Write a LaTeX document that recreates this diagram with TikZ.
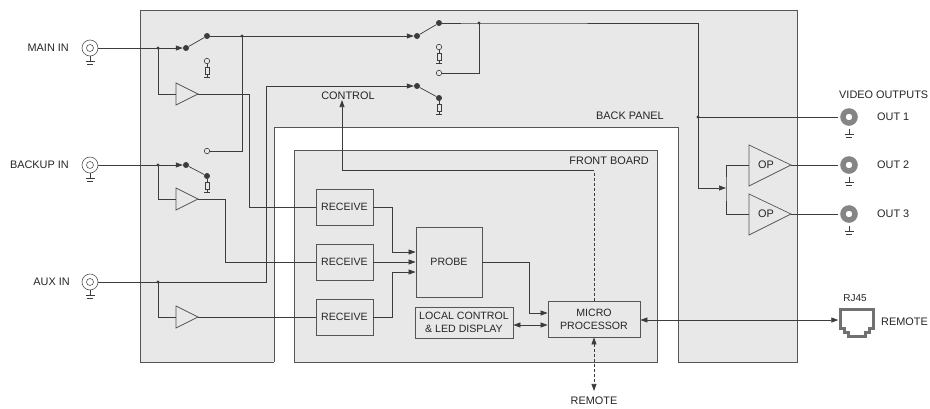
\documentclass[tikz,border=0pt]{standalone}
\usepackage{fontspec}
\setmainfont{Liberation Sans}
\usetikzlibrary{arrows.meta}
\definecolor{panel}{HTML}{E8E8E8}
\definecolor{ln}{HTML}{3C3C3C}
\definecolor{fr}{HTML}{555555}
\definecolor{tx}{HTML}{262626}
\definecolor{ring}{HTML}{858585}
\newcommand{\gndsym}[2]{\draw[wire] (#1) -- ++(0,#2) ++(-4.5,0) -- ++(9,0) ++(-7.5,3) -- ++(6,0);}
\newcommand{\gndsmall}[1]{\draw[wire] (#1) -- ++(0,3) ++(-3,0) -- ++(6,0);}
\begin{document}
\begin{tikzpicture}[x=1pt,y=-1pt,
  wire/.style={draw=ln,line width=0.7pt},
  frame/.style={draw=fr,line width=0.8pt},
  tip/.style={-{Triangle[length=7pt,width=5pt]}},
  dtip/.style={{Triangle[length=7pt,width=5pt]}-{Triangle[length=7pt,width=5pt]}},
  lbl/.style={font=\fontsize{10.9}{12.5}\selectfont,text=tx,inner sep=0},
  box/.style={draw=fr,fill=panel,line width=0.8pt,inner sep=0,font=\fontsize{10.6}{13}\selectfont,text=tx,align=center},
  dot/.style={circle,fill=ln,minimum size=6pt,inner sep=0},
  odot/.style={circle,draw=ln,fill=panel,line width=0.6pt,minimum size=5.5pt,inner sep=0},
  res/.style={draw=ln,fill=panel,line width=0.6pt,minimum width=4pt,minimum height=7pt,inner sep=0},
  incon/.style={circle,draw=fr,fill=white,line width=0.6pt,minimum size=16pt,inner sep=0},
  outcon/.style={circle,draw=ring,fill=white,line width=5.5pt,minimum size=12pt,inner sep=0},
  amp/.style={draw=fr,fill=panel,line width=0.7pt}
]
\useasboundingbox (0,0) rectangle (930,408);
\fill[white] (0,0) rectangle (930,408);
% panels
\fill[panel] (140,10) rectangle (797,362);
\fill[white] (274,127) rectangle (678,363);
\draw[frame] (274,362) -- (140,362) -- (140,10) -- (797,10) -- (797,362) -- (678,362) -- (678,127) -- (274,127) -- (274,362);
\draw[frame,fill=panel] (294,150) rectangle (657,362);
\node[lbl,anchor=east] (bp) at (664,116) {BACK PANEL};
\node[lbl,anchor=east] (fb) at (649,161) {FRONT BOARD};

% input connectors
\node[incon] (cin1) at (90,48) {};
\node[incon] (cin2) at (90,165) {};
\node[incon] (cin3) at (90,282) {};
\foreach \c in {cin1,cin2,cin3}{
  \draw[fr,line width=0.6pt] (\c) circle[radius=3.5];
  \gndsym{\c.south}{5}
}
\node[lbl,anchor=east] (lmain) at (69,48) {MAIN IN};
\node[lbl,anchor=east] (lback) at (69,165) {BACKUP IN};
\node[lbl,anchor=east] (laux) at (70,282) {AUX IN};

% junction coordinates
\coordinate (j1) at (158,48);
\coordinate (j2) at (242,36);
\coordinate (j3) at (158,165);
\coordinate (j4) at (158,282);
\coordinate (j5) at (479,23);
\coordinate (j6) at (698,117);
\coordinate (j7) at (726,188);

% switch 1 (main)
\node[dot] (s1a) at (186,48) {};
\node[dot] (s1b) at (207,36) {};
\node[odot] (t1) at (207,61) {};
\node[res] (r1) at (207,71) {};
\draw[wire] (s1a) -- (s1b);
\draw[wire] (t1) -- (r1);
\gndsmall{r1.south}
% switch 2 (backup)
\node[dot] (s2a) at (186,165) {};
\node[dot] (s2b) at (207,176) {};
\node[odot] (s2c) at (207,151) {};
\node[res] (r2) at (207,185.5) {};
\draw[wire] (s2a) -- (s2b);
\draw[wire] (s2b) -- (r2);
\gndsmall{r2.south}
% switch 3 (top right)
\node[dot] (s3a) at (417,36) {};
\node[dot] (s3b) at (439,23) {};
\node[odot] (t3) at (439,47) {};
\node[res] (r3) at (439,57) {};
\node[odot] (s3c) at (439,73) {};
\draw[wire] (s3a) -- (s3b);
\draw[wire] (t3) -- (r3);
\gndsmall{r3.south}
% switch 4 (control)
\node[dot] (s4a) at (417,86) {};
\node[dot] (s4b) at (439,98) {};
\node[res] (r4) at (439,108) {};
\draw[wire] (s4a) -- (s4b);
\draw[wire] (s4b) -- (r4);
\gndsmall{r4.south}

% amplifiers
\draw[amp] (176,83) -- (198,94) -- (176,105) -- cycle;
\draw[amp] (176,188) -- (198,199) -- (176,210) -- cycle;
\draw[amp] (176,306) -- (198,317) -- (176,328) -- cycle;
\coordinate (a1in) at (176,94);   \coordinate (a1out) at (198,94);
\coordinate (a2in) at (176,199);  \coordinate (a2out) at (198,199);
\coordinate (a3in) at (176,317);  \coordinate (a3out) at (198,317);

% front board boxes
\node[box,minimum width=57pt,minimum height=36pt] (rc1) at (344.5,207) {RECEIVE};
\node[box,minimum width=57pt,minimum height=36pt] (rc2) at (344.5,262) {RECEIVE};
\node[box,minimum width=57pt,minimum height=36pt] (rc3) at (344.5,317) {RECEIVE};
\node[box,minimum width=66pt,minimum height=70pt] (probe) at (449,262) {PROBE};
\node[box,minimum width=98pt,minimum height=31pt] (local) at (464,322.5) {LOCAL CONTROL\\\& LED DISPLAY};
\node[box,minimum width=92pt,minimum height=36pt] (micro) at (594,319) {MICRO\\PROCESSOR};
\node[lbl] (ctl) at (348,96) {CONTROL};
\node[lbl] (remb) at (594,401) {REMOTE};

% wiring: inputs
\draw[wire] (cin1.east) -- (j1);
\draw[wire,tip] (j1) -- (s1a.west);
\draw[wire] (j1) |- (a1in);
\draw[wire] (s1b.east) -- (j2);
\draw[wire,tip] (j2) -- (s3a.west);
\draw[wire] (j2) |- (s2c.east);

\draw[wire] (cin2.east) -- (j3);
\draw[wire,tip] (j3) -- (s2a.west);
\draw[wire] (j3) |- (a2in);

\draw[wire] (cin3.east) -- (j4);
\draw[wire,tip] (j4) -- (266,282) -- (266,86) -- (s4a.west);
\draw[wire] (j4) |- (a3in);

\draw[wire] (a1out) -- (249,94) |- (rc1.west);
\draw[wire] (a2out) -- (225,199) |- (rc2.west);
\draw[wire] (a3out) -- (rc3.west);

% top right switch and outputs
\draw[wire] (s3c.east) -| (j5);
\draw[wire] (s3b.east) -- (j5) -- (698,23) -- (j6);
\draw[wire,tip] (j6) -- (698,188) -- (j7);

% OP amplifiers
\draw[amp] (749,145) -- (791,165) -- (749,186) -- cycle;
\draw[amp] (749,194) -- (791,214) -- (749,235) -- cycle;
\coordinate (op1in) at (749,165);  \coordinate (op1out) at (791,165);
\coordinate (op2in) at (749,214);  \coordinate (op2out) at (791,214);
\node[lbl] (op1) at (766,165) {OP};
\node[lbl] (op2) at (766,214) {OP};
\draw[wire] (op1in) -| (j7) |- (op2in);

% output connectors
\node[outcon] (oc1) at (849,117) {};
\node[outcon] (oc2) at (849,165) {};
\node[outcon] (oc3) at (849,214) {};
\foreach \c in {oc1,oc2,oc3}{
  \draw[wire] (\c.south) ++(0,3) -- ++(0,6) ++(-4.5,0) -- ++(9,0) ++(-7.5,3) -- ++(6,0);
}
\draw[wire,shorten >=2.75pt] (j6) -- (oc1.west);
\draw[wire,shorten >=2.75pt] (op1out) -- (oc2.west);
\draw[wire,shorten >=2.75pt] (op2out) -- (oc3.west);
\node[lbl,anchor=west] (vo) at (839,95) {VIDEO OUTPUTS};
\node[lbl,anchor=west] (o1) at (877,117) {OUT 1};
\node[lbl,anchor=west] (o2) at (877,165) {OUT 2};
\node[lbl,anchor=west] (o3) at (877,214) {OUT 3};

% junction dots
\foreach \j in {j1,j2,j3,j4,j5,j6}{ \fill[ln] (\j) circle[radius=1.7]; }

% front board wiring
\draw[wire,tip] (rc1.east) -- ++(19,0) |- ([yshift=10pt]probe.west);
\draw[wire,tip] (rc2.east) -- (probe.west);
\draw[wire,tip] (rc3.east) -- ++(19,0) |- ([yshift=-10pt]probe.west);
\draw[wire,tip] (probe.east) -- ++(47,0) |- ([yshift=6pt]micro.west);
\draw[wire,dtip] ([yshift=-2.5pt]local.east) coordinate (lc) -- (lc -| micro.west);
\draw[wire,dash pattern=on 3pt off 2pt] (micro.north) -- ++(0,-130) coordinate (cc);
\draw[wire,tip] (cc) -| ([xshift=-6pt]ctl.south);
\draw[wire,dash pattern=on 3pt off 2pt,dtip] (micro.south) -- ([yshift=6pt]remb.north);

% RJ45
\node[inner sep=0,minimum width=36pt,minimum height=29pt] (rj) at (856.5,322.5) {};
\draw[ring!85!black,line width=3pt,line join=miter] (840,309) -- (873,309) -- (873,328) -- (869,328) -- (869,332) -- (865,332) -- (865,336) -- (848,336) -- (848,332) -- (844,332) -- (844,328) -- (840,328) -- cycle;
\draw[wire,dtip] ([yshift=-1pt]micro.east) coordinate (mr) -- (mr -| rj.west);
\node[lbl,font=\fontsize{10}{12}\selectfont] (rjl) at (855,298) {RJ45};
\node[lbl,anchor=west] (rrem) at (881,322) {REMOTE};
\end{tikzpicture}
\end{document}
